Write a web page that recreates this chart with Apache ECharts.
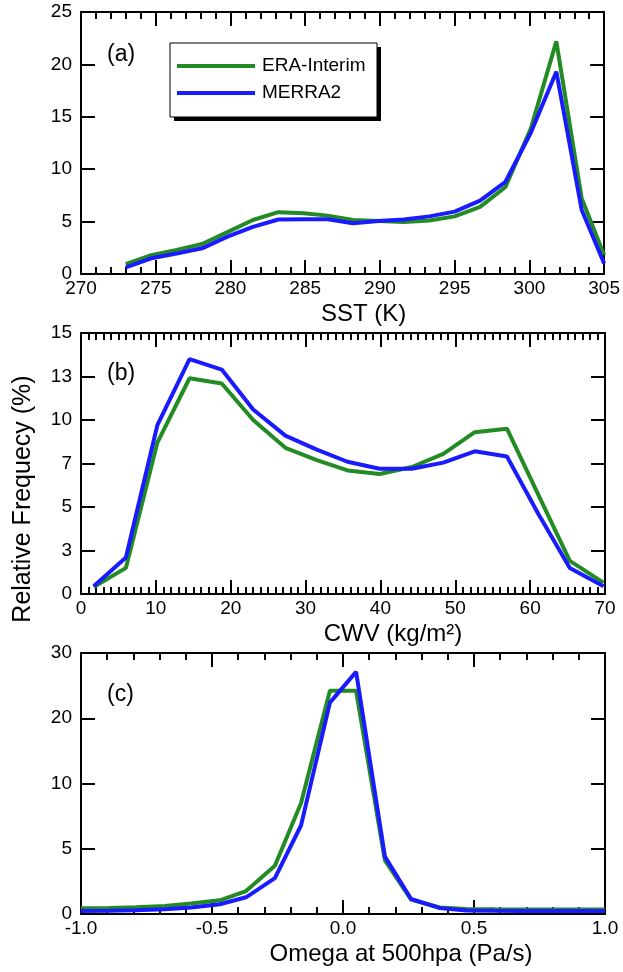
<!DOCTYPE html>
<html>
<head>
<meta charset="utf-8">
<script src="https://cdn.jsdelivr.net/npm/echarts@6/dist/echarts.min.js"></script>
<style>
	html, body { margin: 0; padding: 0; background: #fff; }
	#chart { width: 623px; height: 972px; }
</style>
</head>
<body>
<div id="chart"></div>
<script>
	const FONT = 'Liberation Sans, Arial, Helvetica, sans-serif';
	const seriesNames = ['ERA-Interim', 'MERRA2'];
	const colors = ['#238b23', '#1a1aff'];

	// (a) SST
	const sstX = [273.0, 274.7, 276.4, 278.1, 279.8, 281.5, 283.2, 284.9, 286.5, 288.2, 289.9, 291.6, 293.3, 295.0, 296.7, 298.4, 300.1, 301.8, 303.5, 305.0];
	const sstEra = [0.93, 1.8, 2.3, 2.86, 4.0, 5.15, 5.9, 5.8, 5.57, 5.15, 5.05, 4.95, 5.1, 5.5, 6.4, 8.3, 13.9, 22.2, 7.2, 1.8];
	const sstMerra = [0.64, 1.5, 1.95, 2.45, 3.56, 4.5, 5.2, 5.22, 5.22, 4.84, 5.05, 5.2, 5.5, 5.95, 7.0, 8.8, 13.5, 19.3, 6.1, 1.0];

	// (b) CWV
	const cwvX = [1.7, 6.0, 10.2, 14.5, 18.8, 23.0, 27.3, 31.5, 35.6, 39.9, 44.2, 48.4, 52.6, 56.9, 61.1, 65.3, 69.8];
	const cwvEra = [0.4, 1.5, 8.7, 12.4, 12.1, 10.0, 8.4, 7.7, 7.1, 6.9, 7.3, 8.05, 9.3, 9.5, 5.7, 1.9, 0.65];
	const cwvMerra = [0.45, 2.1, 9.7, 13.5, 12.9, 10.6, 9.1, 8.3, 7.6, 7.2, 7.2, 7.55, 8.2, 7.9, 4.6, 1.5, 0.45];
	const cwvTickLabels = ['0', '3', '5', '7', '10', '13', '15'];

	// (c) Omega at 500hpa
	const omegaX = [-1.0, -0.89, -0.79, -0.68, -0.58, -0.47, -0.37, -0.26, -0.16, -0.05, 0.05, 0.16, 0.26, 0.37, 0.47, 0.58, 0.68, 0.79, 0.89, 1.0];
	const omegaEra = [0.44, 0.46, 0.52, 0.62, 0.8, 1.05, 1.76, 3.7, 8.5, 24.2, 24.2, 4.1, 1.1, 0.5, 0.38, 0.36, 0.35, 0.35, 0.35, 0.35];
	const omegaMerra = [0.23, 0.24, 0.28, 0.37, 0.5, 0.75, 1.28, 2.75, 6.8, 22.4, 27.1, 4.4, 1.15, 0.45, 0.27, 0.24, 0.23, 0.23, 0.23, 0.23];
	// y axis of (c) is piecewise: these values sit at equal spacing
	const omegaTickValues = [0, 5, 10, 20, 30];

	function omegaPos (v) {
		const t = omegaTickValues;
		for (let i = 0; i < t.length - 1; i++) {
			if (v <= t[i + 1]) {
				return i + (v - t[i]) / (t[i + 1] - t[i]);
			}
		}
		return t.length - 1;
	}

	const tickStyle = { color: '#000', width: 2 };

	function makeX (gridIndex, position, min, max, interval, minorSplit, showLabel, formatter) {
		return {
			type: 'value',
			gridIndex: gridIndex,
			position: position,
			min: min,
			max: max,
			interval: interval,
			splitLine: { show: false },
			axisLine: { onZero: false, lineStyle: { color: '#000', width: 2 } },
			axisTick: { inside: true, length: 14, lineStyle: tickStyle },
			minorTick: { show: minorSplit > 0, splitNumber: minorSplit || 5, length: 7, lineStyle: tickStyle },
			axisLabel: {
				show: showLabel,
				margin: 5,
				color: '#000',
				fontFamily: FONT,
				fontSize: 19,
				formatter: formatter
			}
		};
	}

	function makeY (gridIndex, position, min, max, interval, showLabel, formatter) {
		return {
			type: 'value',
			gridIndex: gridIndex,
			position: position,
			min: min,
			max: max,
			interval: interval,
			splitLine: { show: false },
			axisLine: { onZero: false, lineStyle: { color: '#000', width: 2 } },
			axisTick: { inside: true, length: 14, lineStyle: tickStyle },
			axisLabel: {
				show: showLabel,
				margin: 9,
				color: '#000',
				fontFamily: FONT,
				fontSize: 19,
				formatter: formatter
			}
		};
	}

	function axisName (axis, text, shift) {
		axis.name = text;
		axis.nameLocation = 'middle';
		axis.nameGap = 28;
		axis.nameTextStyle = {
			color: '#000',
			fontFamily: FONT,
			fontSize: 24,
			padding: [0, 0, 0, shift * 2]
		};
		return axis;
	}

	function lineSeries (name, color, xi, yi, data) {
		return {
			name: name,
			type: 'line',
			xAxisIndex: xi,
			yAxisIndex: yi,
			data: data,
			showSymbol: false,
			symbol: 'none',
			color: color,
			lineStyle: { color: color, width: 4 },
			animation: false
		};
	}

	function pairs (xs, ys, map) {
		return xs.map((x, i) => [x, map ? map(ys[i]) : ys[i]]);
	}

	const chart = echarts.init(document.getElementById('chart'));

	const option = {
		backgroundColor: '#fff',
		animation: false,
		grid: [
			{ left: 81, width: 524, top: 12, height: 262 },
			{ left: 81, width: 524, top: 333, height: 261 },
			{ left: 81, width: 524, top: 653, height: 261 }
		],
		xAxis: [
			axisName(makeX(0, 'bottom', 270, 305, 5, 5, true), 'SST (K)', 21),
			makeX(0, 'top', 270, 305, 5, 5, false),
			axisName(makeX(1, 'bottom', 0, 70, 10, 10, true), 'CWV (kg/m²)', 50),
			makeX(1, 'top', 0, 70, 10, 10, false),
			axisName(makeX(2, 'bottom', -1, 1, 0.5, 5, true, v => v.toFixed(1)), 'Omega at 500hpa (Pa/s)', 58),
			makeX(2, 'top', -1, 1, 0.5, 5, false)
		],
		yAxis: [
			makeY(0, 'left', 0, 25, 5, true),
			makeY(0, 'right', 0, 25, 5, false),
			makeY(1, 'left', 0, 15, 2.5, true, v => cwvTickLabels[Math.round(v / 2.5)]),
			makeY(1, 'right', 0, 15, 2.5, false),
			makeY(2, 'left', 0, omegaTickValues.length - 1, 1, true, v => String(omegaTickValues[Math.round(v)])),
			makeY(2, 'right', 0, omegaTickValues.length - 1, 1, false)
		],
		legend: {
			data: seriesNames,
			orient: 'vertical',
			left: 170,
			top: 43,
			z: 20,
			padding: [12, 10, 13, 7],
			itemGap: 5,
			itemWidth: 78,
			itemHeight: 4,
			icon: 'rect',
			selectedMode: false,
			textStyle: {
				color: '#000',
				fontFamily: FONT,
				fontSize: 19,
				lineHeight: 22,
				padding: [0, 0, 0, 2]
			}
		},
		graphic: [
			// legend frame with its drop shadow
			{ type: 'rect', z: 10, shape: { x: 174, y: 47, width: 207, height: 74 }, style: { fill: '#000' } },
			{ type: 'rect', z: 11, shape: { x: 170, y: 43, width: 207, height: 74 }, style: { fill: '#fff', stroke: '#000', lineWidth: 1 } },
			{ type: 'text', left: 107, top: 43, style: { text: '(a)', fill: '#000', font: '23px ' + FONT } },
			{ type: 'text', left: 107, top: 362, style: { text: '(b)', fill: '#000', font: '23px ' + FONT } },
			{ type: 'text', left: 107, top: 683, style: { text: '(c)', fill: '#000', font: '23px ' + FONT } },
			{
				type: 'text',
				x: 23,
				y: 499,
				rotation: Math.PI / 2,
				style: {
					text: 'Relative Frequecy (%)',
					fill: '#000',
					font: '25px ' + FONT,
					textAlign: 'center',
					textVerticalAlign: 'middle',
					align: 'center',
					verticalAlign: 'middle'
				}
			}
		],
		series: [
			lineSeries(seriesNames[0], colors[0], 0, 0, pairs(sstX, sstEra)),
			lineSeries(seriesNames[1], colors[1], 0, 0, pairs(sstX, sstMerra)),
			lineSeries(seriesNames[0], colors[0], 2, 2, pairs(cwvX, cwvEra)),
			lineSeries(seriesNames[1], colors[1], 2, 2, pairs(cwvX, cwvMerra)),
			lineSeries(seriesNames[0], colors[0], 4, 4, pairs(omegaX, omegaEra, omegaPos)),
			lineSeries(seriesNames[1], colors[1], 4, 4, pairs(omegaX, omegaMerra, omegaPos))
		]
	};

	chart.setOption(option);
</script>
</body>
</html>
